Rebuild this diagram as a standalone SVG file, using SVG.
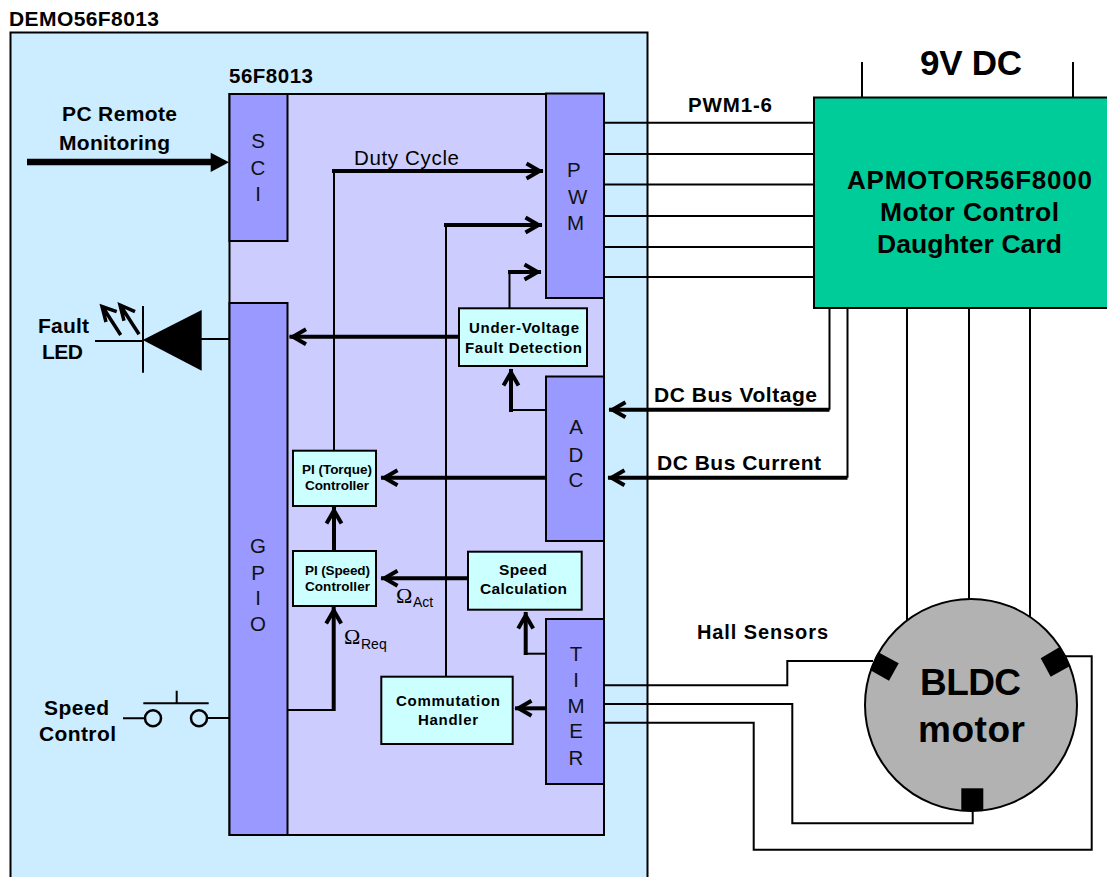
<svg xmlns="http://www.w3.org/2000/svg" width="1107" height="877" viewBox="0 0 1107 877">
<style>
text{font-family:"Liberation Sans",Arial,sans-serif;fill:#000}
.b{font-weight:700}
.p{font-size:20.500px;text-anchor:middle;fill:#111}
.block{fill:#9999FF;stroke:#000;stroke-width:2}
.box{fill:#CCFFFF;stroke:#000;stroke-width:2}
.l{fill:none;stroke:#000;stroke-width:2}
.t{fill:none;stroke:#000;stroke-width:4}
.a{marker-end:url(#open)}
</style>
<defs>
<marker id="open" markerUnits="userSpaceOnUse" markerWidth="26" markerHeight="24" refX="21.500" refY="12" orient="auto" viewBox="0 0 26 24">
<path d="M5 4.500L18 12L5 19.500" fill="none" stroke="#000" stroke-width="4"/>
</marker>
</defs>
<rect width="1107" height="877" fill="#fff"/>
<g id="board"><rect x="10.500" y="32.500" width="637" height="860" fill="#CCECFF" stroke="#000" stroke-width="2"/>
<text class="b" x="9" y="26" font-size="21" textLength="150">DEMO56F8013</text></g>
<g id="chip"><rect x="229.500" y="94" width="374.500" height="741" fill="#CCCCFF" stroke="#000" stroke-width="2"/>
<text class="b" x="229" y="83" font-size="20.500" textLength="84">56F8013</text></g>

<g id="connectors">
<path class="l" d="M604 122.700H814M604 154H814M604 184.500H814M604 216H814M604 247H814M604 277H814"/>
<path class="l" d="M829.500 308V409.700M847.500 308V477.700"/>
<path class="t a" d="M829.500 409.700H609"/>
<path class="t a" d="M847.500 477.700H608"/>
<path class="l" d="M907 308V622M969 308V600M1030 308V622"/>
<path class="l" d="M862 62V97M1073 62V97"/>
<path class="l" d="M604 685.300H787.300V661H873"/>
<path class="l" d="M604 704H792.300V823.300H972.700V810"/>
<path class="l" d="M604 722.700H753.700V849.700H1091.700V656.300H1065"/>
<path class="l" d="M334 450V171"/>
<path class="t a" d="M332 171H543"/>
<path class="l" d="M446 677V225"/>
<path class="t a" d="M444 225H542"/>
<path class="l" d="M509.500 308V272"/>
<path class="t a" d="M508 272H541"/>
<path class="t a" d="M459 336.700H289.500"/>
<path class="l" d="M546 410H511"/>
<path class="t a" d="M511 412V369"/>
<path class="t a" d="M546 477.700H381"/>
<path class="t a" d="M334 551V507"/>
<path class="t a" d="M468 578.300H381"/>
<path class="l" d="M287 710H333.700"/>
<path class="t a" d="M333.700 711V607"/>
<path class="t a" d="M546 708.300H515"/>
<path class="l" d="M546 653.700H525.700"/>
<path class="t a" d="M525.700 655V612"/>
<path class="l" d="M201 339H229"/>
<path d="M27 162H212" fill="none" stroke="#000" stroke-width="6.500"/>
<path d="M210.700 152.700L229 162.300L210.700 172Z" fill="#000"/>
</g>

<g id="sci"><rect class="block" x="229.500" y="94" width="58" height="147"/>
<text class="p" x="258" y="148">S</text><text class="p" x="258" y="175">C</text><text class="p" x="258" y="201">I</text></g>
<g id="gpio"><rect class="block" x="229.500" y="303" width="58" height="532"/>
<text class="p" x="258" y="553">G</text><text class="p" x="258" y="580">P</text><text class="p" x="258" y="605">I</text><text class="p" x="258" y="631">O</text></g>
<g id="pwm"><rect class="block" x="546" y="93.500" width="58" height="204.500"/>
<text class="p" x="567" y="177" style="text-anchor:start">P</text><text class="p" x="568" y="204" style="text-anchor:start">W</text><text class="p" x="567" y="230" style="text-anchor:start">M</text></g>
<g id="adc"><rect class="block" x="546" y="376.500" width="58" height="164.500"/>
<text class="p" x="576" y="434">A</text><text class="p" x="576" y="462">D</text><text class="p" x="576" y="487">C</text></g>
<g id="timer"><rect class="block" x="546" y="619" width="58" height="165"/>
<text class="p" x="576" y="661">T</text><text class="p" x="576" y="687">I</text><text class="p" x="576" y="713">M</text><text class="p" x="576" y="738">E</text><text class="p" x="576" y="765">R</text></g>

<g id="uv"><rect class="box" x="459" y="308.300" width="128" height="57.700"/>
<text class="b" x="469" y="333" font-size="15" textLength="110">Under-Voltage</text>
<text class="b" x="465" y="353" font-size="15" textLength="117">Fault Detection</text></g>
<g id="pi-torque"><rect class="box" x="293" y="450.700" width="83" height="55.300"/>
<text class="b" x="302" y="474" font-size="13.500" textLength="70">PI (Torque)</text>
<text class="b" x="305" y="490" font-size="13.500" textLength="64">Controller</text></g>
<g id="pi-speed"><rect class="box" x="293" y="551" width="83" height="55"/>
<text class="b" x="305" y="575" font-size="13.500" textLength="65">PI (Speed)</text>
<text class="b" x="305" y="591" font-size="13.500" textLength="65">Controller</text></g>
<g id="speed-calc"><rect class="box" x="468" y="551.700" width="113.700" height="58"/>
<text class="b" x="499" y="575" font-size="15.500" textLength="48">Speed</text>
<text class="b" x="480" y="594" font-size="15.500" textLength="87">Calculation</text></g>
<g id="commutation"><rect class="box" x="381.300" y="676.700" width="131.400" height="67.300"/>
<text class="b" x="396" y="706" font-size="15" textLength="104">Commutation</text>
<text class="b" x="418" y="725" font-size="15" textLength="60">Handler</text></g>

<g id="omega-act"><text x="396" y="602.700" font-size="22" style="font-family:'Liberation Serif',serif">Ω</text><text x="413" y="607" font-size="14">Act</text></g>
<g id="omega-req"><text x="344" y="644" font-size="22" style="font-family:'Liberation Serif',serif">Ω</text><text x="361" y="649" font-size="14">Req</text></g>
<text id="duty" x="354" y="165" font-size="20.500" textLength="105">Duty Cycle</text>

<g id="pc"><text class="b" x="62" y="121" font-size="21" textLength="115">PC Remote</text>
<text class="b" x="59" y="150" font-size="21" textLength="111">Monitoring</text></g>

<g id="fault-led"><path d="M201.700 310V370.700L142.700 340Z" fill="#000"/>
<path class="l" d="M143 306V372.700M95 341H143"/>
<path d="M120.700 335L102.700 307M139 334.300L120.500 305.500M106 322L102 306.500L116.700 311.700M124 320.700L120 305L135 311.700" fill="none" stroke="#000" stroke-width="3.500"/>
<text class="b" x="38" y="333" font-size="21" textLength="51">Fault</text>
<text class="b" x="42" y="359" font-size="21" textLength="41">LED</text></g>

<g id="speed-control"><path class="l" d="M123 718.300H145M207 718H229M143.300 703.300H208.700M176.700 690.700V703"/>
<circle cx="153" cy="718.300" r="8" fill="none" stroke="#000" stroke-width="2.500"/><circle cx="199" cy="718.300" r="8" fill="none" stroke="#000" stroke-width="2.500"/>
<text class="b" x="44" y="715" font-size="21" textLength="65">Speed</text>
<text class="b" x="39" y="741" font-size="21" textLength="77">Control</text></g>

<g id="daughter-card"><rect x="814" y="97.500" width="300" height="210.500" fill="#00CC99" stroke="#000" stroke-width="2"/>
<text class="b" x="847" y="189" font-size="26" textLength="245">APMOTOR56F8000</text>
<text class="b" x="880" y="221" font-size="26.500" textLength="179">Motor Control</text>
<text class="b" x="877" y="253" font-size="26.500" textLength="185">Daughter Card</text></g>
<text id="v9" class="b" x="920" y="75" font-size="35" textLength="102">9V DC</text>
<text id="pwm16" class="b" x="688" y="112" font-size="20.500" textLength="84">PWM1-6</text>
<text id="dcv" class="b" x="654" y="402" font-size="21" textLength="163">DC Bus Voltage</text>
<text id="dci" class="b" x="657" y="470" font-size="21" textLength="164">DC Bus Current</text>
<text id="hall" class="b" x="697" y="639" font-size="20" textLength="131">Hall Sensors</text>

<g id="motor"><circle cx="971" cy="705" r="106" fill="#B2B2B2" stroke="#000" stroke-width="2"/>
<polygon points="878.300,652.300 898.700,663.300 889,680.700 870,670" fill="#000"/>
<polygon points="1059.300,647.300 1070,666 1050.700,676.700 1040.700,658.300" fill="#000"/>
<rect x="961.300" y="788.300" width="22" height="22.400" fill="#000"/>
<text class="b" x="920" y="695" font-size="37" textLength="101">BLDC</text>
<text class="b" x="918" y="742" font-size="37" textLength="107">motor</text></g>
</svg>
